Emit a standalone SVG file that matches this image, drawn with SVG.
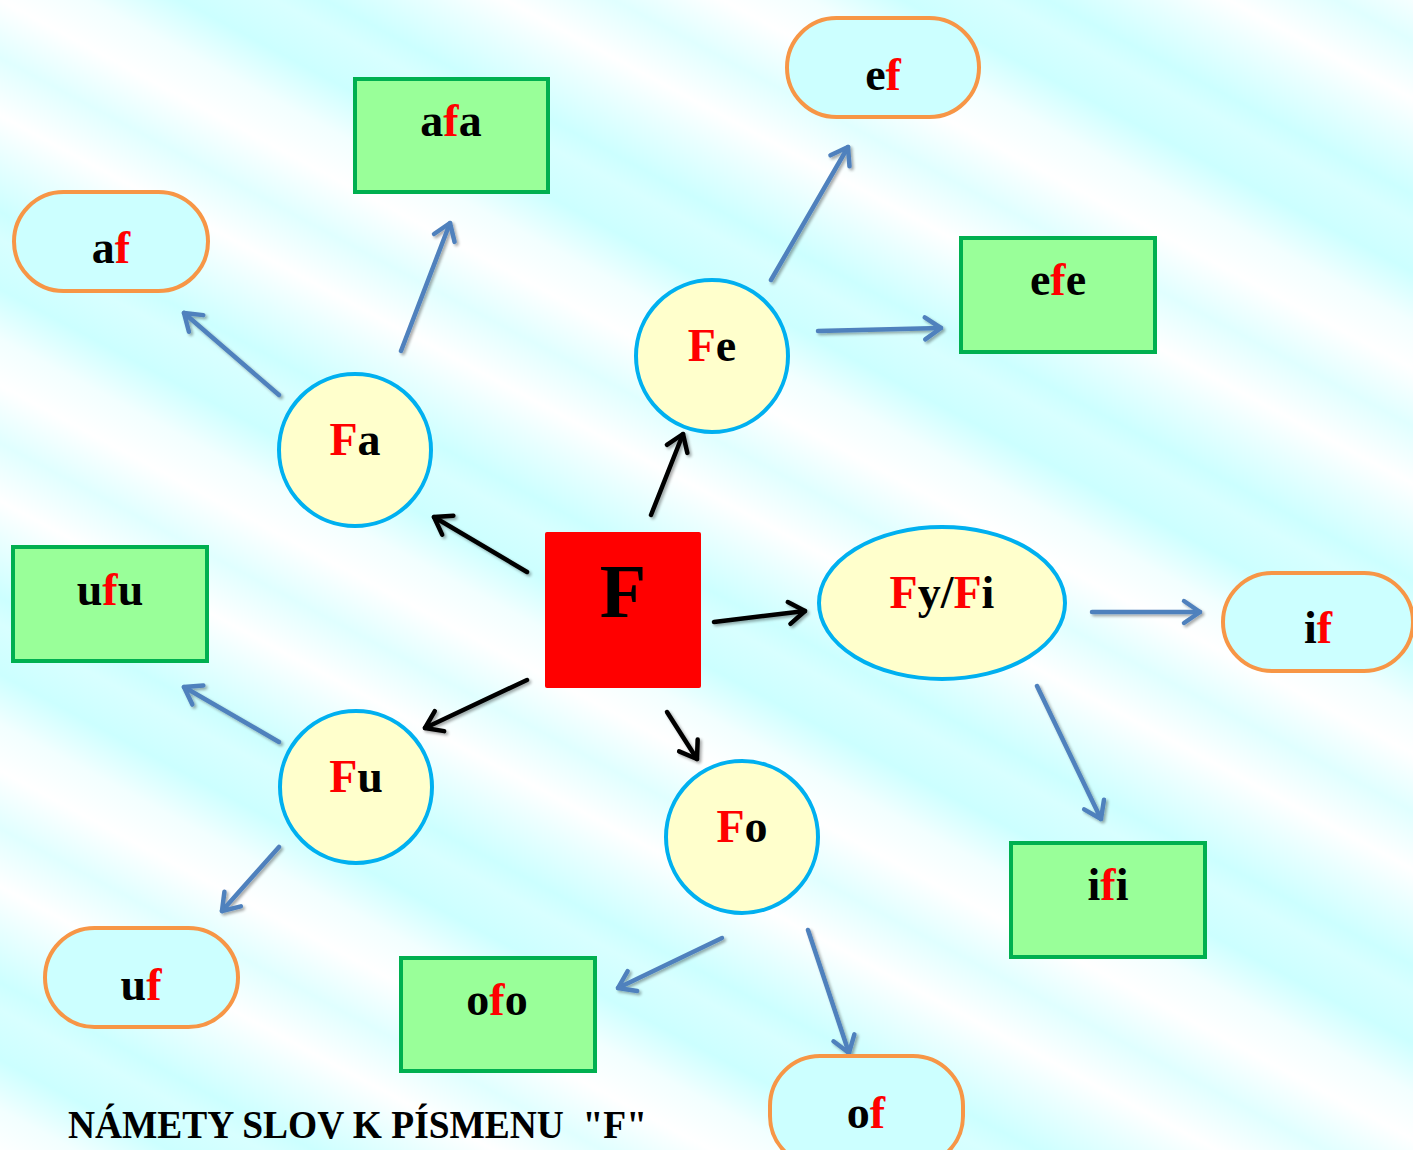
<svg xmlns="http://www.w3.org/2000/svg" width="1413" height="1150" viewBox="0 0 1413 1150">
<defs>
<linearGradient id="bg" gradientUnits="userSpaceOnUse" x1="0" y1="0" x2="160" y2="-300" spreadMethod="repeat">
<stop offset="0" stop-color="#ffffff"/>
<stop offset="0.12" stop-color="#f2ffff"/>
<stop offset="0.25" stop-color="#ccffff"/>
<stop offset="0.38" stop-color="#d8ffff"/>
<stop offset="0.45" stop-color="#ccffff"/>
<stop offset="0.6" stop-color="#eaffff"/>
<stop offset="0.7" stop-color="#ffffff"/>
<stop offset="0.85" stop-color="#e0ffff"/>
<stop offset="1" stop-color="#ffffff"/>
</linearGradient>
<filter id="sh" x="-20%" y="-20%" width="140%" height="140%">
<feGaussianBlur in="SourceAlpha" stdDeviation="1.5"/>
<feOffset dx="2" dy="2" result="b"/>
<feComponentTransfer><feFuncA type="linear" slope="0.35"/></feComponentTransfer>
<feMerge><feMergeNode/><feMergeNode in="SourceGraphic"/></feMerge>
</filter>
<marker id="hk" markerUnits="userSpaceOnUse" markerWidth="30" markerHeight="30" viewBox="-20 -15 25 30" refX="0" refY="0" orient="auto">
<polyline points="-16,-11 0,0 -16,11" fill="none" stroke="#000000" stroke-width="4.5" stroke-linecap="round" stroke-linejoin="round"/>
</marker>
<marker id="hb" markerUnits="userSpaceOnUse" markerWidth="30" markerHeight="30" viewBox="-20 -15 25 30" refX="0" refY="0" orient="auto">
<polyline points="-16,-11 0,0 -16,11" fill="none" stroke="#4f81bd" stroke-width="4.5" stroke-linecap="round" stroke-linejoin="round"/>
</marker>
</defs>
<style>
.t{font-family:"Liberation Serif","Times New Roman",serif;font-weight:bold;font-size:46px;text-anchor:middle;fill:#000000}
.r{fill:#ff0000}
.circ{fill:#ffffcc;stroke:#00b0f0;stroke-width:4}
.pill{fill:#ccffff;stroke:#f79646;stroke-width:4}
.box{fill:#99ff99;stroke:#00b050;stroke-width:4}
.ak{fill:none;stroke:#000000;stroke-width:4.5;stroke-linecap:round;marker-end:url(#hk)}
.ab{fill:none;stroke:#4f81bd;stroke-width:4.5;stroke-linecap:round;marker-end:url(#hb)}
</style>
<rect x="0" y="0" width="1413" height="1150" fill="url(#bg)"/>

<g id="connectors" filter="url(#sh)">
<line class="ak" x1="527" y1="572" x2="434" y2="517"/>
<line class="ak" x1="651" y1="515" x2="683" y2="434"/>
<line class="ak" x1="714" y1="622" x2="805" y2="611"/>
<line class="ak" x1="527" y1="680" x2="425" y2="728"/>
<line class="ak" x1="667" y1="712" x2="697" y2="759"/>
<line class="ab" x1="279" y1="395" x2="184" y2="313"/>
<line class="ab" x1="401" y1="351" x2="450" y2="223"/>
<line class="ab" x1="771" y1="280" x2="848" y2="147"/>
<line class="ab" x1="818" y1="331" x2="941" y2="328"/>
<line class="ab" x1="1092" y1="612" x2="1200" y2="612"/>
<line class="ab" x1="1037" y1="686" x2="1101" y2="819"/>
<line class="ab" x1="279" y1="742" x2="184" y2="687"/>
<line class="ab" x1="279" y1="847" x2="222" y2="911"/>
<line class="ab" x1="722" y1="938" x2="618" y2="988"/>
<line class="ab" x1="808" y1="930" x2="849" y2="1053"/>
</g>

<g id="F">
<rect x="545" y="532" width="156" height="156" rx="2" fill="#ff0000"/>
<text class="t" x="623" y="617" style="font-size:76px">F</text>
</g>

<g id="Fa"><circle class="circ" cx="355" cy="450" r="76"/><text class="t" x="355" y="455"><tspan class="r">F</tspan>a</text></g>
<g id="Fe"><circle class="circ" cx="712" cy="356" r="76"/><text class="t" x="712" y="361"><tspan class="r">F</tspan>e</text></g>
<g id="Fu"><circle class="circ" cx="356" cy="787" r="76"/><text class="t" x="356" y="792"><tspan class="r">F</tspan>u</text></g>
<g id="Fo"><circle class="circ" cx="742" cy="837" r="76"/><text class="t" x="742" y="842"><tspan class="r">F</tspan>o</text></g>
<g id="FyFi"><ellipse class="circ" cx="942" cy="603" rx="123" ry="76"/><text class="t" x="942" y="608"><tspan class="r">F</tspan>y/<tspan class="r">F</tspan>i</text></g>

<g id="ef"><rect class="pill" x="787" y="18" width="192" height="99" rx="49.5"/><text class="t" x="883" y="90">e<tspan class="r">f</tspan></text></g>
<g id="af"><rect class="pill" x="14" y="192" width="194" height="99" rx="49.5"/><text class="t" x="111" y="263">a<tspan class="r">f</tspan></text></g>
<g id="if"><rect class="pill" x="1223" y="573" width="190" height="98" rx="49"/><text class="t" x="1318" y="643">i<tspan class="r">f</tspan></text></g>
<g id="uf"><rect class="pill" x="45" y="928" width="193" height="99" rx="49.5"/><text class="t" x="141" y="1000">u<tspan class="r">f</tspan></text></g>
<g id="of"><rect class="pill" x="770" y="1056" width="193" height="110" rx="50"/><text class="t" x="866" y="1128">o<tspan class="r">f</tspan></text></g>

<g id="afa"><rect class="box" x="355" y="79" width="193" height="113"/><text class="t" x="451" y="136">a<tspan class="r">f</tspan>a</text></g>
<g id="efe"><rect class="box" x="961" y="238" width="194" height="114"/><text class="t" x="1058" y="295">e<tspan class="r">f</tspan>e</text></g>
<g id="ufu"><rect class="box" x="13" y="547" width="194" height="114"/><text class="t" x="110" y="605">u<tspan class="r">f</tspan>u</text></g>
<g id="ifi"><rect class="box" x="1011" y="843" width="194" height="114"/><text class="t" x="1108" y="900">i<tspan class="r">f</tspan>i</text></g>
<g id="ofo"><rect class="box" x="401" y="958" width="194" height="113"/><text class="t" x="497" y="1015">o<tspan class="r">f</tspan>o</text></g>

<g id="title"><text x="68" y="1138" xml:space="preserve" style="font-family:'Liberation Serif','Times New Roman',serif;font-weight:bold;font-size:39px;fill:#000000" textLength="579" lengthAdjust="spacingAndGlyphs">NÁMETY SLOV K PÍSMENU  "F"</text></g>
</svg>
